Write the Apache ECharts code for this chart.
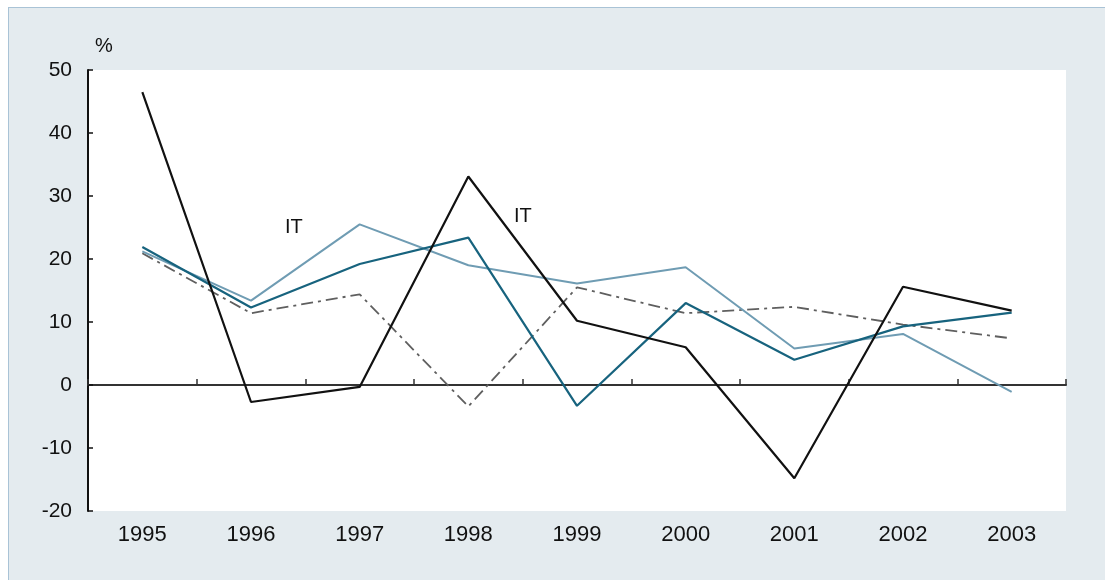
<!DOCTYPE html>
<html>
<head>
<meta charset="utf-8">
<script src="https://cdn.jsdelivr.net/npm/echarts@6/dist/echarts.min.js"></script>
<style>
  html,body{margin:0;padding:0;background:#fff;width:1105px;height:580px;overflow:hidden;}
  #bg{position:absolute;left:8px;top:7px;width:1097px;height:573px;background:#e4ebef;border-left:1px solid #a9c3d6;border-top:1px solid #a9c3d6;box-sizing:border-box;}
  #chart{position:absolute;left:0;top:0;width:1105px;height:580px;}
</style>
</head>
<body>
<div id="bg"></div>
<div id="chart"></div>
<script>
const years = ['1995','1996','1997','1998','1999','2000','2001','2002','2003'];
const seriesBlack = [46.5, -2.7, -0.3, 33.1, 10.2, 6.0, -14.8, 15.6, 11.8];
const seriesTeal  = [21.9, 12.3, 19.2, 23.4, -3.3, 13.0, 4.0, 9.3, 11.5];
const seriesLight = [21.2, 13.4, 25.5, 19.0, 16.1, 18.7, 5.8, 8.1, -1.1];
const seriesDash  = [20.9, 11.4, 14.4, -3.4, 15.5, 11.4, 12.4, 9.6, 7.4];
const yMin = -20, yMax = 50, yStep = 10;

const chart = echarts.init(document.getElementById('chart'), null, {renderer:'canvas'});
const font = 'Liberation Sans, Arial, sans-serif';
chart.setOption({
  animation:false,
  backgroundColor:'transparent',
  grid:{left:88, right:39, top:70, bottom:69, show:true, backgroundColor:'#ffffff', borderWidth:0},
  xAxis:[
    {type:'category', data:years, boundaryGap:true, position:'bottom',
     axisLine:{show:false, onZero:false}, axisTick:{show:false},
     axisLabel:{color:'#111', fontSize:22, fontFamily:font, margin:13}},
    {type:'category', data:years, boundaryGap:true, position:'bottom',
     axisLine:{show:true, onZero:true, lineStyle:{color:'#333', width:2}},
     axisTick:{show:true, inside:true, length:6, lineStyle:{color:'#333', width:1.5}},
     axisLabel:{show:false}}
  ],
  yAxis:{type:'value', min:yMin, max:yMax, interval:yStep,
    axisLine:{show:true, lineStyle:{color:'#111', width:2}},
    axisTick:{show:true, inside:true, length:5, lineStyle:{color:'#111', width:1.5}},
    splitLine:{show:false},
    axisLabel:{color:'#111', fontSize:21, fontFamily:font, margin:16}},
  graphic:[
    {type:'text', left:95, top:36, style:{text:'%', fontSize:20, fontFamily:font, fill:'#111'}},
    {type:'text', left:285, top:217, style:{text:'IT', fontSize:20, fontFamily:font, fill:'#111'}},
    {type:'text', left:514, top:206, style:{text:'IT', fontSize:20, fontFamily:font, fill:'#111'}}
  ],
  series:[
    {type:'line', data:seriesDash, xAxisIndex:0, symbol:'none', z:2,
     lineStyle:{color:'#5f5f5f', width:1.8, type:[12,5,3,5]}},
    {type:'line', data:seriesLight, xAxisIndex:0, symbol:'none', z:3,
     lineStyle:{color:'#6f9cb3', width:2}},
    {type:'line', data:seriesTeal, xAxisIndex:0, symbol:'none', z:4,
     lineStyle:{color:'#17637e', width:2.2}},
    {type:'line', data:seriesBlack, xAxisIndex:0, symbol:'none', z:5,
     lineStyle:{color:'#111111', width:2.2}}
  ]
});
</script>
</body>
</html>
